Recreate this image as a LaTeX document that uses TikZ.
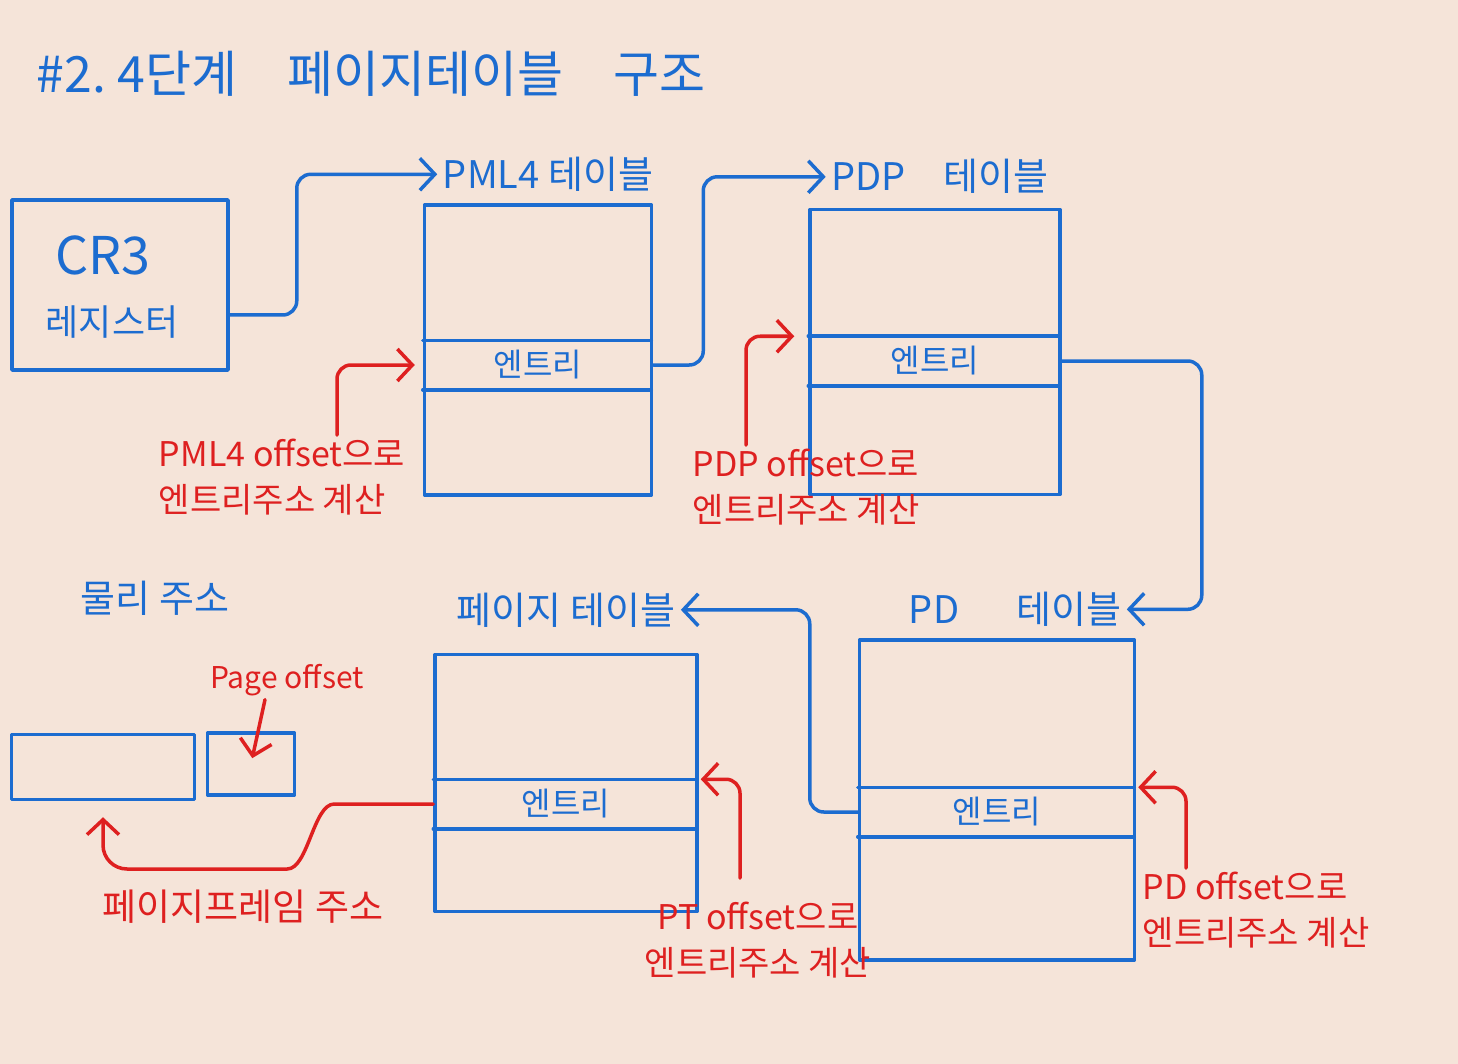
\documentclass[tikz,border=0pt]{standalone}
\usepackage{fontspec}
\newfontfamily\krfont{Noto Sans CJK KR}
\usepackage{tikz}
\usetikzlibrary{positioning}
\usetikzlibrary{arrows.meta}
\definecolor{paper}{RGB}{245,228,217}
\definecolor{penblue}{RGB}{28,108,208}
\definecolor{penred}{RGB}{222,32,32}

\begin{document}
\begin{tikzpicture}[
            x = 1pt, y = -1pt, % pixel grid of the sketch
            > = {Straight Barb[length=15pt, width=32pt]}, % arrow head style
            shorten > = 2pt, % don't touch arrow head to node
            node distance = 8pt,
            line width = 3.5pt, % pen width
            line cap = round, line join = round
        ]

        \tikzstyle{tbl}=[
            draw = penblue,
            inner sep = 0pt
        ]
        \tikzstyle{blue text}=[text = penblue, inner sep = 2pt,
            font = \krfont\fontsize{38}{46}\selectfont]
        \tikzstyle{entry}=[text = penblue, inner sep = 0pt, minimum height = 46pt,
            font = \krfont\fontsize{32}{38}\selectfont]
        \tikzstyle{note}=[text = penred, inner sep = 2pt, align = left,
            font = \krfont\fontsize{34}{46}\selectfont]
        \tikzstyle{link}=[draw = penblue, ->, rounded corners = 14pt]
        \tikzstyle{red link}=[draw = penred, ->, rounded corners = 14pt]

        \fill[paper] (0,0) rectangle (1458,1064);

        % title
        \node[blue text, font = \krfont\fontsize{50}{58}\selectfont] (title) at (371,74) {\#2.\ 4단계\quad 페이지테이블\quad 구조};

        % CR3 register
        \node[tbl, minimum width = 216pt, minimum height = 170pt] (cr3) at (120,285) {};
        \node[blue text, font = \krfont\fontsize{52}{60}\selectfont] (cr3-a) at (103,255) {CR3};
        \node[blue text, font = \krfont\fontsize{36}{44}\selectfont] (cr3-b) at (112,322) {레지스터};

        % tables
        \node[tbl, minimum width = 227pt, minimum height = 290pt] (pml4) at (538,350) {};
        \node[tbl, minimum width = 250pt, minimum height = 285pt] (pdp) at (935,352) {};
        \node[tbl, minimum width = 275pt, minimum height = 320pt] (pd) at (997,800) {};
        \node[tbl, minimum width = 262pt, minimum height = 257pt] (pt) at (566,783) {};

        \node[blue text, above = 8pt of pml4, xshift = 10pt] (pml4-t) {PML4 테이블};
        \node[blue text, above = 10pt of pdp, xshift = 5pt] (pdp-t) {PDP\quad 테이블};
        \node[blue text, above = 8pt of pd, xshift = 18pt] (pd-t) {PD\hspace{1.5em}테이블};
        \node[blue text, above = 22pt of pt] (pt-t) {페이지 테이블};

        % entries
        \node[entry] (pml4-e) at (pml4.center |- 0,365) {엔트리};
        \node[entry] (pdp-e) at (pdp.center |- 0,361) {엔트리};
        \node[entry] (pd-e) at (pd.center |- 0,812) {엔트리};
        \node[entry] (pt-e) at (pt.center |- 0,804) {엔트리};

        \foreach \t in {pml4,pdp,pd,pt} {
            \draw[penblue] (\t.west |- \t-e.north) -- (\t.east |- \t-e.north);
            \draw[penblue] (\t.west |- \t-e.south) -- (\t.east |- \t-e.south);
        }

        % physical address
        \node[blue text] (phys-t) at (155,598) {물리 주소};
        \node[tbl, minimum width = 183pt, minimum height = 65pt] (frame) at (103,767) {};
        \node[tbl, minimum width = 87pt, minimum height = 62pt] (off) at (251,764) {};

        % walk through the tables
        \draw[link] ([yshift=-30pt]cr3.east) -- ++(67,0) |- (pml4-t.west);
        \draw[link] (pml4.east |- pml4-e) -- ++(50,0) |- (pdp-t.west);
        \draw[link] (pdp.east |- pdp-e) -- ++(140,0) |- (pd-t.east);
        \draw[link] (pd.west |- pd-e) -- ++(-48,0) |- (pt-t.east);

        % offsets
        \node[note] (pml4-o) at (282,477) {PML4 offset으로\\엔트리주소 계산};
        \node[note] (pdp-o) at (806,487) {PDP offset으로\\엔트리주소 계산};
        \node[note, align = center] (pt-o) at (758,940) {PT offset으로\\엔트리주소 계산};
        \node[note] (pd-o) at (1256,910) {PD offset으로\\엔트리주소 계산};
        \node[note, font = \krfont\fontsize{30}{36}\selectfont] (pg-o) at (287,680) {Page offset};
        \node[note, font = \krfont\fontsize{37}{44}\selectfont] (frame-o) at (243,907) {페이지프레임 주소};

        \draw[red link, shorten > = 8pt] ([xshift=55pt]pml4-o.north) |- (pml4.west |- pml4-e);
        \draw[red link, shorten > = 14pt] ([xshift=-60pt]pdp-o.north) |- (pdp.west |- pdp-e.north);
        \draw[red link] ([xshift=-18pt, yshift=20pt]pt-o.north) |- (pt.east |- pt-e.north);
        \draw[red link] ([xshift=-70pt]pd-o.north) |- (pd.east |- pd-e.north);
        \draw[red link, shorten > = 6pt] ([xshift=-22pt]pg-o.south) -- (off.center);

        % frame address
        \draw[red link, rounded corners = 24pt] (pt.west |- pt-e) -- ++(-75,0)
            to[out=180, in=0] ++(-95,65) -| ([yshift=-14pt]frame.south);

\end{tikzpicture}
\end{document}
